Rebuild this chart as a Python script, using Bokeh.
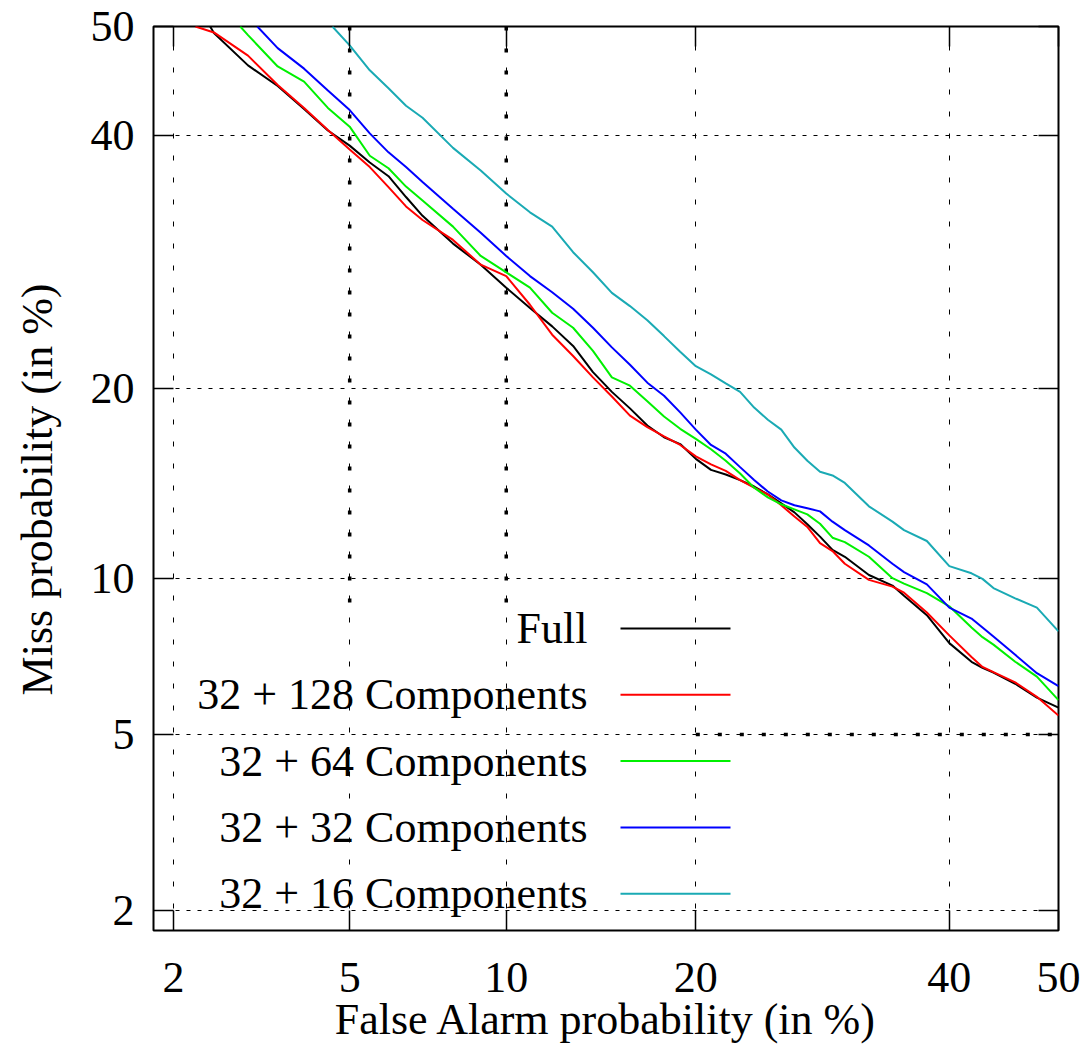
import math
from bokeh.plotting import figure
from bokeh.models import (Range1d, FixedTicker, CustomJSTickFormatter, LinearAxis,
                          Label, BoxAnnotation)
from bokeh.embed import file_html
from bokeh.resources import INLINE

# ---------------- data (percent) ----------------
tick_values = [2, 5, 10, 20, 40, 50]
tick_labels = ["2", "5", "10", "20", "40", "50"]

full_fa = [2.45, 2.5, 3, 3.5, 4, 4.5, 5, 5.5, 6, 6.5, 7, 8, 9, 10, 11, 12, 13, 14, 15, 16, 17, 18, 19, 20,
           21, 22, 23, 24, 25, 26, 27, 28, 29, 30, 31, 33, 35, 36, 38, 40, 42, 43, 44, 46, 48, 50]
full_miss = [50, 49.4, 46.4, 44.5, 42.4, 40.45, 39.1, 37.6, 36.4, 34.6, 33.0, 30.7, 29.0, 27.2, 25.65, 24.3,
             22.9, 21.1, 19.8, 18.75, 17.7, 17.0, 16.6, 15.76, 15.15, 14.9, 14.6, 14.26, 13.85, 13.4, 12.95,
             12.38, 11.8, 11.2, 10.9, 10.13, 9.7, 9.3, 8.57, 7.6, 7.0, 6.81, 6.67, 6.34, 5.95, 5.68]

c128_fa = [2.26, 2.5, 3, 3.5, 4, 4.5, 5, 5.5, 6, 6.5, 7, 8, 9, 10, 11, 12, 13, 14, 15, 16, 17, 18, 19, 20,
           21, 22, 23, 24, 25, 26, 27, 28, 29, 30, 31, 33, 35, 36, 38, 40, 42, 43, 44, 46, 48, 50]
c128_miss = [50, 49.45, 47.3, 44.6, 42.5, 40.5, 38.75, 37.2, 35.45, 33.8, 32.65, 31.0, 29.0, 28.1, 25.9, 23.7,
             22.2, 20.75, 19.5, 18.3, 17.6, 17.05, 16.55, 15.9, 15.45, 15.1, 14.6, 14.2, 13.85, 13.3, 12.75,
             12.25, 11.5, 11.15, 10.6, 9.93, 9.66, 9.42, 8.67, 7.86, 7.15, 6.84, 6.68, 6.38, 5.97, 5.47]

c64_fa = [2.88, 3, 3.5, 4, 4.5, 5, 5.5, 6, 6.5, 7, 8, 9, 10, 11, 12, 13, 14, 15, 16, 17, 18, 19, 20,
          21, 22, 23, 24, 25, 26, 27, 28, 29, 30, 31, 33, 35, 36, 38, 40, 42, 43, 44, 46, 48, 50]
c64_miss = [50, 49.2, 46.3, 44.9, 42.5, 40.8, 38.2, 37.1, 35.5, 34.3, 32.1, 29.7, 28.4, 27.2, 25.3, 24.2,
            22.55, 20.75, 20.2, 19.2, 18.25, 17.5, 16.9, 16.3, 15.65, 14.95, 14.2, 13.7, 13.35, 13.1, 12.85,
            12.4, 11.75, 11.55, 10.9, 10.0, 9.78, 9.4, 8.9, 8.13, 7.8, 7.55, 7.0, 6.55, 5.88]

c32_fa = [3.15, 3.5, 4, 4.5, 5, 5.5, 6, 6.5, 7, 8, 9, 10, 11, 12, 13, 14, 15, 16, 17, 18, 19, 20,
          21, 22, 23, 24, 25, 26, 27, 28, 29, 30, 31, 33, 35, 36, 38, 40, 42, 43, 44, 46, 48, 50]
c32_miss = [50, 48.0, 46.1, 44.1, 42.3, 40.2, 38.5, 37.2, 35.9, 33.6, 31.6, 29.7, 28.1, 26.85, 25.6, 24.2,
            22.8, 21.6, 20.4, 19.55, 18.5, 17.45, 16.55, 16.05, 15.3, 14.6, 14.0, 13.55, 13.3, 13.15, 13.0,
            12.5, 12.1, 11.4, 10.6, 10.25, 9.75, 8.85, 8.45, 8.13, 7.82, 7.22, 6.65, 6.27]

c16_fa = [4.6, 5, 5.5, 6, 6.5, 7, 8, 9, 10, 11, 12, 13, 14, 15, 16, 17, 18, 19, 20,
          21, 22, 23, 24, 25, 26, 27, 28, 29, 30, 31, 33, 35, 36, 38, 40, 42, 43, 44, 46, 48, 50]
c16_miss = [50, 48.25, 45.95, 44.3, 42.7, 41.6, 38.9, 36.9, 34.9, 33.3, 32.1, 30.0, 28.4, 26.8, 25.8, 24.75,
            23.6, 22.5, 21.5, 20.95, 20.35, 19.8, 18.8, 18.05, 17.45, 16.4, 15.65, 15.05, 14.85, 14.45, 13.25,
            12.5, 12.1, 11.6, 10.5, 10.2, 9.97, 9.6, 9.2, 8.85, 8.0]

series_names = ["Full", "32 + 128 Components", "32 + 64 Components", "32 + 32 Components", "32 + 16 Components"]
series_colors = ["#000000", "#ff0000", "#00f000", "#0000ff", "#1aaab4"]

x_title = "False Alarm probability (in %)"
y_title = "Miss probability (in %)"

# reference guide lines (percent)
guide_fa = [5, 10]
guide_fa_miss_range = [50, 9]
guide_miss = 5
guide_miss_fa_range = [20, 50]

axis_min_pct = 1.786


def probit(p):
    q = p / 100.0
    lo, hi = -10.0, 10.0
    for _ in range(80):
        mid = 0.5 * (lo + hi)
        if 0.5 * math.erfc(-mid / math.sqrt(2.0)) < q:
            lo = mid
        else:
            hi = mid
    return 0.5 * (lo + hi)


def P(arr):
    return [probit(v) for v in arr]


FONT = "Liberation Serif"
FS = "44px"
FRAME_W, FRAME_H = 905, 904

p = figure(frame_width=FRAME_W, frame_height=FRAME_H, output_backend="svg", toolbar_location=None,
           x_range=Range1d(probit(axis_min_pct), probit(50)),
           y_range=Range1d(probit(axis_min_pct), probit(50)),
           min_border_left=153, min_border_right=25, min_border_top=26, min_border_bottom=116)
p.background_fill_color = "white"
p.border_fill_color = "white"
p.outline_line_color = "black"
p.outline_line_width = 2
p.outline_line_alpha = 1

ticks = P(tick_values)
ticker = FixedTicker(ticks=ticks, minor_ticks=[])
fmt = CustomJSTickFormatter(args=dict(tv=ticks, tl=tick_labels), code="""
let b = 0;
for (let i = 0; i < tv.length; i++) { if (Math.abs(tv[i] - tick) < Math.abs(tv[b] - tick)) b = i; }
return tl[b];
""")

for ax in [p.xaxis[0], p.yaxis[0]]:
    ax.ticker = ticker
    ax.formatter = fmt
    ax.axis_line_color = None
    ax.major_tick_in = 20
    ax.major_tick_out = 0
    ax.major_tick_line_color = "black"
    ax.major_tick_line_width = 1.5
    ax.minor_tick_line_color = None
    ax.major_label_text_font = FONT
    ax.major_label_text_font_size = FS
    ax.major_label_text_color = "black"
    ax.axis_label_text_font = FONT
    ax.axis_label_text_font_size = FS
    ax.axis_label_text_font_style = "normal"
    ax.axis_label_text_color = "black"

p.xaxis[0].axis_label = x_title
p.xaxis[0].major_label_standoff = 32
p.xaxis[0].axis_label_standoff = 0
# trailing en space nudges the centred title slightly downwards, as in the reference
p.yaxis[0].axis_label = y_title + "\u2002"
p.yaxis[0].major_label_standoff = 19
p.yaxis[0].axis_label_standoff = 26

blank = CustomJSTickFormatter(code="return '';")
for loc in ["above", "right"]:
    ax = LinearAxis(ticker=FixedTicker(ticks=ticks, minor_ticks=[]), formatter=blank)
    ax.axis_line_color = None
    ax.major_tick_in = 20
    ax.major_tick_out = 0
    ax.major_tick_line_color = "black"
    ax.major_tick_line_width = 1.5
    ax.minor_tick_line_color = None
    ax.major_label_standoff = 0
    p.add_layout(ax, loc)

p.xgrid.ticker = ticker
p.ygrid.ticker = ticker
p.xgrid.grid_line_color = "black"
p.ygrid.grid_line_color = "black"
p.xgrid.grid_line_width = 1
p.ygrid.grid_line_width = 1
p.xgrid.grid_line_dash = "5 17"
p.ygrid.grid_line_dash = "4 7"

# guide lines
p.segment(x0=P(guide_fa), y0=[probit(guide_fa_miss_range[0])] * len(guide_fa),
          x1=P(guide_fa), y1=[probit(guide_fa_miss_range[1])] * len(guide_fa),
          line_color="black", line_width=3.5, line_dash="4 18")
p.segment(x0=[probit(guide_miss_fa_range[0])], y0=[probit(guide_miss)],
          x1=[probit(guide_miss_fa_range[1])], y1=[probit(guide_miss)],
          line_color="black", line_width=3.5, line_dash="4 18")

curves = [(full_fa, full_miss), (c128_fa, c128_miss), (c64_fa, c64_miss), (c32_fa, c32_miss), (c16_fa, c16_miss)]
for (fa, miss), c in zip(curves, series_colors):
    p.line(P(fa), P(miss), line_color=c, line_width=2)

# manual legend (right-aligned labels, samples to the right)
leg_top = 302
leg_step = 66.3
for i, (name, c) in enumerate(zip(series_names, series_colors)):
    yy = leg_top - i * leg_step
    p.add_layout(Label(x=434, y=yy, x_units="screen", y_units="screen", text=name,
                       text_align="right", text_baseline="middle", text_font=FONT,
                       text_font_size=FS, text_color="black"))
    p.add_layout(BoxAnnotation(left=467, right=577, bottom=yy - 1, top=yy + 1,
                               left_units="screen", right_units="screen",
                               bottom_units="screen", top_units="screen",
                               fill_color=c, fill_alpha=1, line_color=None))

open("out.html", "w").write(file_html(p, INLINE))
